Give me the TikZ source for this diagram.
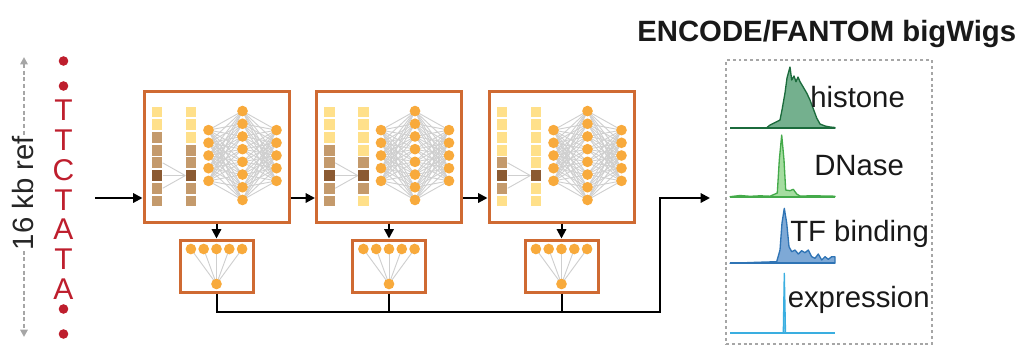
\documentclass[tikz,border=0pt]{standalone}
\usepackage{fontspec}
\setmainfont{Liberation Sans}
\usetikzlibrary{arrows.meta,backgrounds}
\definecolor{orng}{HTML}{CF6A32}
\definecolor{neur}{HTML}{F8AA3C}
\definecolor{sqy}{HTML}{FFE08A}
\definecolor{sqt}{HTML}{C49A6C}
\definecolor{sqd}{HTML}{8B5A32}
\definecolor{connc}{HTML}{CFCFCF}
\definecolor{dnared}{HTML}{BE1E2D}
\definecolor{dgray}{HTML}{A6A6A6}
\definecolor{histl}{HTML}{1B6B3C}
\definecolor{histf}{HTML}{74B08E}
\definecolor{dnasel}{HTML}{44AA4A}
\definecolor{dnasef}{HTML}{A5DDA0}
\definecolor{tfl}{HTML}{2F74B5}
\definecolor{tff}{HTML}{7EA9D6}
\definecolor{exprl}{HTML}{3AAEE0}
\begin{document}
\begin{tikzpicture}[x=0.75pt,y=-0.75pt,
  blockbox/.style={draw=orng,line width=2.25pt,minimum width=108.75pt,minimum height=98.25pt,inner sep=0},
  smallbox/.style={draw=orng,line width=2.25pt,minimum width=54.75pt,minimum height=39pt,inner sep=0},
  neuron/.style={circle,fill=neur,inner sep=0,minimum size=8pt},
  sq/.style={rectangle,inner sep=0,minimum size=8.1pt},
  conn/.style={draw=connc,line width=0.7pt},
  arrowline/.style={draw=black,line width=1.5pt},
  arr/.style={arrowline,-{Triangle[length=7pt,width=7pt]}},
  dna/.style={text=dnared,inner sep=0,font=\fontsize{22.5}{22}\selectfont},
  dnadot/.style={circle,fill=dnared,inner sep=0,minimum size=7.2pt},
  lbl/.style={inner sep=0,anchor=base west,font=\fontsize{22}{22}\selectfont,text=black!90},
  base/.style={line width=1.7pt},
  prof/.style={line width=1pt,line join=round}
]
\useasboundingbox (0,0) rectangle (1026,362);

% ---------- left: reference sequence ----------
\coordinate (rt) at (24,57);
\coordinate (rb) at (24,337);
\draw[draw=dgray,line width=1.6pt,dash pattern=on 3pt off 2pt,
  {Triangle[length=5.5pt,width=5.5pt]}-{Triangle[length=5.5pt,width=5.5pt]}] (rt) -- (rb);
\node[fill=white,inner sep=1pt,rotate=90,font=\fontsize{22}{22}\selectfont,text=black!85] (reflbl) at (23.5,193) {16 kb ref};

\node[dnadot] (d1) at (63.5,61) {};
\node[dnadot] (d2) at (63.5,86) {};
\foreach \l [count=\i] in {T,T,C,T,A,T,A}
  \node[dna] (n\i) at (63.5,{110.5+(\i-1)*29.75}) {\l};
\node[dnadot] (d3) at (63.5,309) {};
\node[dnadot] (d4) at (63.5,334) {};

% ---------- blocks ----------
\coordinate (in) at (95,198);
\foreach \b/\L/\ca/\cb in {1/144/{y,y,t,t,t,d,t,t}/{y,y,y,t,t,d,t,t},
                          2/316.5/{y,y,y,t,t,d,t,t}/{y,y,y,y,t,d,t,y},
                          3/489/{y,y,y,y,t,d,t,y}/{y,y,y,y,y,d,y,y}} {
  \node[blockbox] (b\b) at ({\L+72.5},156.5) {};
  \foreach \c [count=\i] in \ca
    \node[sq,fill=sq\c] (b\b-p\i) at ({\L+13},{156.5+(\i-4.5)*12.7}) {};
  \foreach \c [count=\i] in \cb
    \node[sq,fill=sq\c] (b\b-q\i) at ({\L+47},{156.5+(\i-4.5)*12.7}) {};
  \foreach \i in {1,...,5}
    \node[neuron] (b\b-a\i) at ({\L+64.5},{155.5+(\i-3)*12.7}) {};
  \foreach \i in {1,...,8}
    \node[neuron] (b\b-h\i) at ({\L+98.5},{155.5+(\i-4.5)*12.7}) {};
  \foreach \i in {1,...,5}
    \node[neuron] (b\b-c\i) at ({\L+132.5},{155.5+(\i-3)*12.7}) {};
  \begin{pgfonlayer}{background}
    \foreach \i in {1,...,5}
      \foreach \j in {1,...,8} {
        \draw[conn] (b\b-a\i.center) -- (b\b-h\j.center);
        \draw[conn] (b\b-h\j.center) -- (b\b-c\i.center);
      }
    \foreach \i in {5,6,7}
      \draw[conn] (b\b-p\i.east) -- (b\b-q6.west);
  \end{pgfonlayer}
  % small head box
  \node[smallbox] (s\b) at ({\L+72.5},266) {};
  \foreach \k in {1,...,5}
    \node[neuron] (s\b-t\k) at ({\L+72.5+(\k-3)*12.8},249) {};
  \node[neuron] (s\b-o) at ({\L+72.5},284) {};
  \begin{pgfonlayer}{background}
    \foreach \k in {1,...,5}
      \draw[conn] (s\b-o.center) -- (s\b-t\k.center);
  \end{pgfonlayer}
  \draw[arr] (b\b.south) -- (s\b.north);
}

\draw[arr] (in) -- (b1.west|-in);
\draw[arr] (b1.east|-in) -- (b2.west|-in);
\draw[arr] (b2.east|-in) -- (b3.west|-in);

% ---------- output wiring ----------
\coordinate (j) at (660,311.7);
\coordinate (tin) at (710,198);
\draw[arr] (s1.south) |- (j) |- (tin);
\draw[arrowline] (s2.south) -- (s2.south|-j);
\draw[arrowline] (s3.south) -- (s3.south|-j);

% ---------- tracks ----------
\node[draw=dgray,line width=2.2pt,dash pattern=on 2.2pt off 2.2pt,minimum width=154.5pt,minimum height=213pt,inner sep=0] (tb) at (829,202) {};
\node[inner sep=0,anchor=base west,font=\fontsize{22}{22}\selectfont\bfseries,text=black!90] (title) at (637,41.7) {ENCODE/FANTOM bigWigs};

% histone
\filldraw[fill=histf,draw=histl,prof]
  (766,128.3) -- (770,125) -- (780,120) -- (782,110) -- (785,93) -- (787,78) -- (790,67)
  -- (791.7,80) -- (794,76) -- (796,81.7) -- (798,77) -- (800,81.7) -- (803,86.7)
  -- (806.7,93) -- (810,100) -- (813,108) -- (816.7,118) -- (820,124) -- (825,126)
  -- (830,127) -- (835,127.5) -- (835,128.3) -- cycle;
\draw[histl,base] (730,128.3) -- (835,128.3);
\node[lbl] (hl) at (810,107.5) {histone};

% DNase
\filldraw[fill=dnasef,draw=dnasel,prof]
  (730,196.7) -- (740,195.5) -- (750,196.3) -- (760,195.8) -- (770,196.2) -- (777.3,193)
  -- (779.3,160) -- (781.7,135) -- (784,160) -- (785.7,190) -- (790,190.7) -- (793.3,189.3)
  -- (796.7,194) -- (800,196) -- (815,195.8) -- (835,196.2) -- (835,196.7) -- cycle;
\draw[dnasel,base] (730,196.7) -- (835,196.7);
\node[lbl] (dl) at (814,175.5) {DNase};

% TF binding
\filldraw[fill=tff,draw=tfl,prof]
  (730,263.3) -- (756.7,262.3) -- (776.7,261.7) -- (780,250) -- (782,223) -- (784.3,208.3)
  -- (786.7,223) -- (789,246.7) -- (791.7,251.7) -- (795,250) -- (798.3,254) -- (801.7,250.7)
  -- (805,252.7) -- (808.3,250) -- (811.7,256.7) -- (815,258.3) -- (818.3,254) -- (821.7,260)
  -- (825,256.7) -- (828.3,259.3) -- (831.7,256.7) -- (835,256.7) -- (835,263.3) -- cycle;
\draw[tfl,base] (730,263.3) -- (835,263.3);
\node[lbl] (tl) at (790,241) {TF binding};

% expression
\filldraw[fill=exprl!60,draw=exprl,prof] (783.3,333.3) -- (784.3,273.3) -- (785.5,333.3) -- cycle;
\draw[exprl,base] (730,333.3) -- (835,333.3);
\node[lbl] (el) at (787.5,307) {expression};
\end{tikzpicture}
\end{document}
